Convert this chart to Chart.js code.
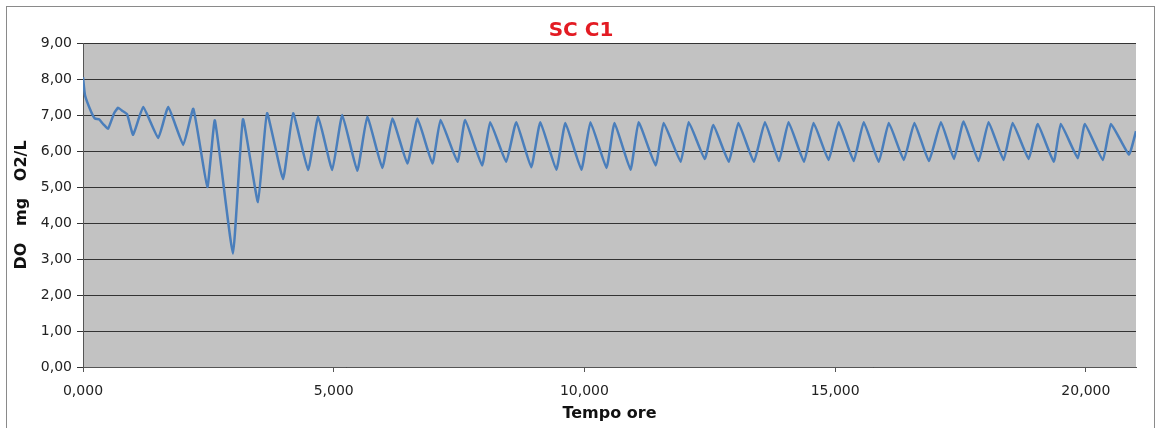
<!DOCTYPE html>
<html>
<head>
<meta charset="utf-8">
<script src="https://cdn.jsdelivr.net/npm/chart.js@4"></script>
<style>
  html, body { margin: 0; padding: 0; background: #fff; }
  #wrap { width: 1162px; height: 428px; }
</style>
</head>
<body>
<div id="wrap"><canvas id="grafico"></canvas></div>
<script>
// Tempo (ore) e ossigeno disciolto (mg O2/L)
const tempo = [
  0.00, 0.04, 0.16, 0.24, 0.32, 0.40, 0.50, 0.62, 0.70, 0.78, 0.88, 1.00,
  1.20, 1.50, 1.70, 2.00, 2.20, 2.48, 2.63, 2.99, 3.19, 3.49, 3.67, 3.99,
  4.19, 4.49, 4.69, 4.97, 5.17, 5.47, 5.67, 5.97, 6.17, 6.47, 6.67, 6.97,
  7.13, 7.47, 7.62, 7.96, 8.12, 8.44, 8.64, 8.94, 9.12, 9.44, 9.62, 9.94,
  10.12, 10.44, 10.60, 10.92, 11.08, 11.42, 11.58, 11.92, 12.08, 12.40,
  12.57, 12.88, 13.07, 13.38, 13.60, 13.88, 14.07, 14.38, 14.57, 14.87,
  15.07, 15.37, 15.57, 15.87, 16.07, 16.37, 16.58, 16.87, 17.11, 17.37,
  17.56, 17.86, 18.06, 18.36, 18.54, 18.86, 19.04, 19.36, 19.50, 19.84,
  19.98, 20.34, 20.50, 20.86, 21.00
];
const ossigeno = [
  8.05, 7.55, 7.10, 6.90, 6.88, 6.75, 6.62, 7.05, 7.20, 7.12, 7.02, 6.45,
  7.22, 6.36, 7.22, 6.17, 7.17, 5.00, 6.85, 3.15, 6.88, 4.58, 7.05, 5.22,
  7.05, 5.47, 6.95, 5.47, 7.00, 5.45, 6.95, 5.53, 6.90, 5.65, 6.90, 5.65,
  6.86, 5.70, 6.86, 5.60, 6.80, 5.70, 6.80, 5.55, 6.80, 5.48, 6.78, 5.48,
  6.80, 5.53, 6.78, 5.48, 6.80, 5.60, 6.78, 5.70, 6.80, 5.78,
  6.72, 5.70, 6.78, 5.70, 6.80, 5.72, 6.80, 5.70, 6.78, 5.75,
  6.80, 5.72, 6.80, 5.70, 6.78, 5.75, 6.78, 5.72, 6.80, 5.78,
  6.82, 5.72, 6.80, 5.75, 6.78, 5.78, 6.75, 5.70, 6.75, 5.80,
  6.75, 5.75, 6.75, 5.90, 6.55
];
const tickX = [0, 5, 10, 15, 20];
const tickY = [0, 1, 2, 3, 4, 5, 6, 7, 8, 9];

const font = "'DejaVu Sans', Verdana, sans-serif";

// Sfondo grigio, cornice esterna e titolo
const sfondo = {
  id: 'sfondo',
  beforeDraw(chart) {
    const { ctx, chartArea: a } = chart;
    ctx.save();
    ctx.fillStyle = '#c2c2c2';
    ctx.fillRect(a.left, a.top, a.right - a.left, a.bottom - a.top);
    ctx.strokeStyle = '#8a8a8a';
    ctx.lineWidth = 1;
    ctx.strokeRect(6.5, 6.5, 1148, 430);
    ctx.fillStyle = '#e31b23';
    ctx.font = 'bold 20px ' + font;
    ctx.textAlign = 'center';
    ctx.textBaseline = 'middle';
    ctx.fillText('SC C1', 581, 31);
    ctx.restore();
  }
};

new Chart(document.getElementById('grafico'), {
  type: 'scatter',
  data: {
    datasets: [{
      label: 'SC C1',
      data: tempo.map((t, i) => ({ x: t, y: ossigeno[i] })),
      showLine: true,
      borderColor: '#4a7ebb',
      borderWidth: 2.5,
      pointRadius: 0,
      tension: 0.12
    }]
  },
  options: {
    responsive: true,
    maintainAspectRatio: false,
    animation: false,
    layout: { padding: { left: 0, right: 26, top: 43, bottom: 0 } },
    plugins: {
      legend: { display: false },
      tooltip: { enabled: false },
      title: { display: false }
    },
    scales: {
      x: {
        type: 'linear',
        min: 0,
        max: 21,
        afterBuildTicks: s => { s.ticks = tickX.map(v => ({ value: v })); },
        afterFit: s => { s.height = 61; },
        ticks: {
          color: '#222',
          font: { family: font, size: 14 },
          padding: 11,
          maxRotation: 0,
          callback: v => v.toFixed(3).replace('.', ',')
        },
        grid: { drawOnChartArea: false, color: '#555', tickLength: 5 },
        border: { color: '#555', width: 1 },
        title: {
          display: true,
          text: 'Tempo ore',
          color: '#111',
          font: { family: font, size: 16, weight: 'bold' },
          padding: { top: 0, bottom: 5 }
        }
      },
      y: {
        min: 0,
        max: 9,
        afterBuildTicks: s => { s.ticks = tickY.map(v => ({ value: v })); },
        afterFit: s => { s.width = 83; },
        ticks: {
          color: '#222',
          font: { family: font, size: 14 },
          padding: 5,
          callback: v => v.toFixed(2).replace('.', ',')
        },
        grid: { color: '#333', lineWidth: 1, tickLength: 6 },
        border: { color: '#555', width: 1 },
        title: {
          display: true,
          text: 'DO   mg   O2/L',
          color: '#111',
          font: { family: font, size: 16, weight: 'bold' },
          padding: { top: 12, bottom: 0 }
        }
      }
    }
  },
  plugins: [sfondo]
});
</script>
</body>
</html>
